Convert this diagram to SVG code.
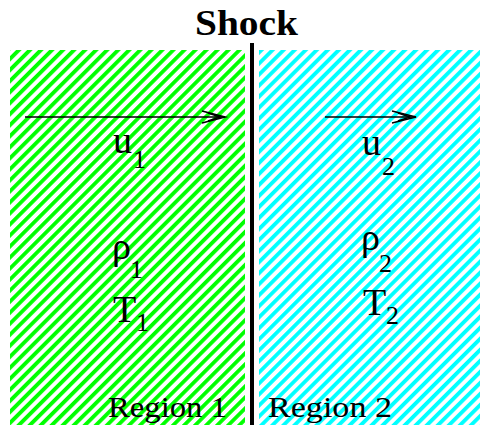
<svg xmlns="http://www.w3.org/2000/svg" width="485" height="428" viewBox="0 0 485 428">
<style>
text{font-family:"Liberation Serif","Times New Roman",serif;fill:#000}
.sym{font-size:38px}
.sub{font-size:26px}
.reg{font-size:29px}
.conn{stroke:#000;stroke-width:1.6;fill:none}
</style>
<defs>
<pattern id="hatchG" width="7.8" height="7.8" patternUnits="userSpaceOnUse" patternTransform="rotate(45)">
<rect width="7.8" height="7.8" fill="#fff"/>
<rect width="3.8" height="7.8" fill="#00ff00"/>
</pattern>
<pattern id="hatchC" width="7.8" height="7.8" patternUnits="userSpaceOnUse" patternTransform="rotate(45)">
<rect width="7.8" height="7.8" fill="#fff"/>
<rect width="3.8" height="7.8" fill="#00ffff"/>
</pattern>
</defs>
<rect width="485" height="428" fill="#fff"/>
<g id="region1">
<rect x="10" y="50" width="235" height="375" fill="url(#hatchG)"/>
<text x="113" y="153" class="sym" font-size="34">u</text>
<text x="133" y="168" class="sub">1</text>
<text x="112" y="259" class="sym" font-size="36">ρ</text>
<text x="130" y="278" class="sub">1</text>
<text x="113" y="322" class="sym">T</text>
<text x="136" y="331" class="sub">1</text>
<text x="108" y="417" class="reg" textLength="119" lengthAdjust="spacingAndGlyphs">Region 1</text>
</g>
<g id="region2">
<rect x="259" y="50" width="221" height="375" fill="url(#hatchC)"/>
<text x="362" y="155" class="sym" font-size="34">u</text>
<text x="382" y="175" class="sub">2</text>
<text x="361" y="250" class="sym" font-size="36">ρ</text>
<text x="379" y="272" class="sub">2</text>
<text x="363" y="315" class="sym">T</text>
<text x="386" y="324" class="sub">2</text>
<text x="268" y="417" class="reg" textLength="124" lengthAdjust="spacingAndGlyphs">Region 2</text>
</g>
<g id="shock">
<line x1="252" y1="43" x2="252" y2="425" stroke="#000" stroke-width="4"/>
<text x="195" y="35" font-size="36" font-weight="bold" textLength="103" lengthAdjust="spacingAndGlyphs">Shock</text>
</g>
<g id="connectors">
<line class="conn" x1="25" y1="117" x2="225" y2="117"/>
<polyline class="conn" points="202,111 225,117 202,123"/>
<polyline class="conn" points="208,113 220,117 208,121"/>
<line class="conn" x1="325" y1="117" x2="416" y2="117"/>
<polyline class="conn" points="392,111 416,117 392,123"/>
<polyline class="conn" points="398,113 410,117 398,121"/>
</g>
</svg>
